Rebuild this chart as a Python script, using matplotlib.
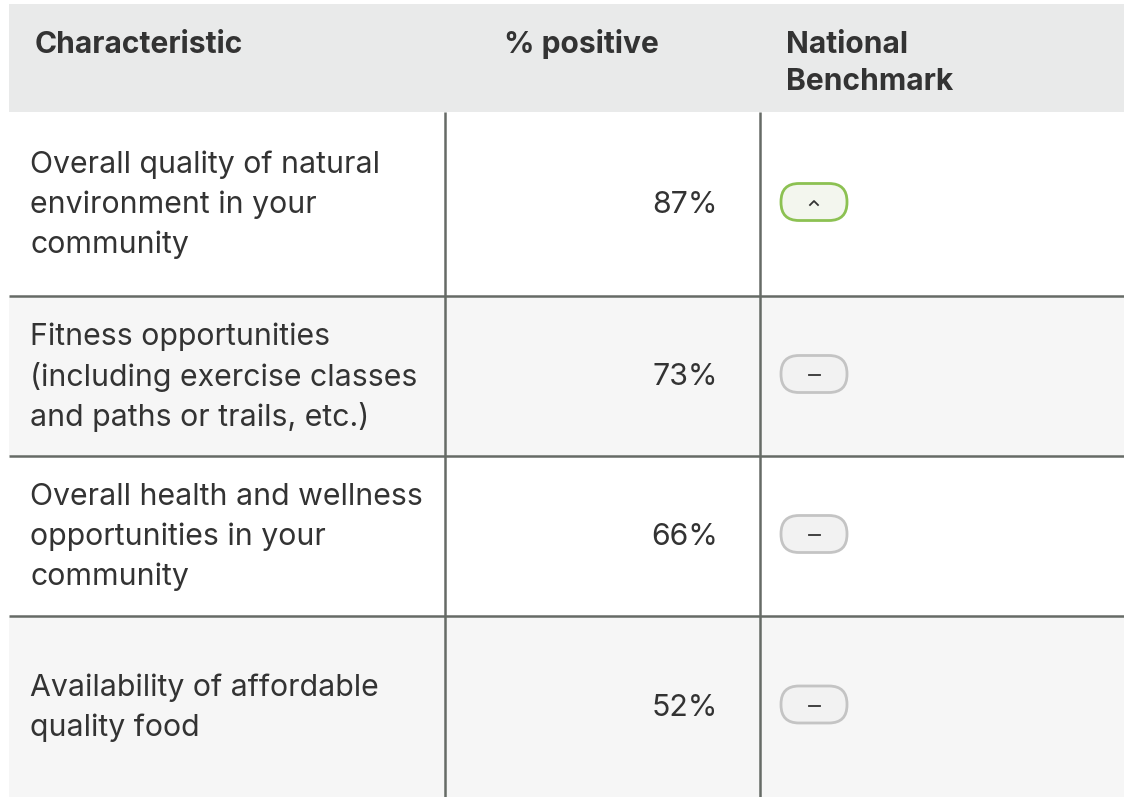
import matplotlib.pyplot as plt
from matplotlib.patches import Rectangle, FancyBboxPatch

plt.rcParams['font.family'] = ['Inter', 'DejaVu Sans']

# Table content
characteristics = [
    "Overall quality of natural\nenvironment in your\ncommunity",
    "Fitness opportunities\n(including exercise classes\nand paths or trails, etc.)",
    "Overall health and wellness\nopportunities in your\ncommunity",
    "Availability of affordable\nquality food",
]
pct_positive = [87, 73, 66, 52]
benchmark = ["higher", "similar", "similar", "similar"]
headers = ["Characteristic", "% positive", "National\nBenchmark"]

# Layout (pixels)
W, H = 1124, 797
left = 9
header_top, header_bot = 4, 112
row_edges = [112, 296, 456, 616, 797]
col1_x, col2_x = 445, 760
header_x = [35, 504, 786]
pct_right = 718
pill_cx, pill_w, pill_h = 814, 66, 36
line_h = 40
head_line_h = 37

text_col = "#333333"
line_col = "#666b66"

fig = plt.figure(figsize=(W / 100, H / 100), dpi=100)
ax = fig.add_axes([0, 0, 1, 1])
ax.set_xlim(0, W)
ax.set_ylim(H, 0)
ax.axis("off")

# Header
ax.add_patch(Rectangle((left, header_top), W - left, header_bot - header_top,
                       color="#e9eaea", lw=0))
for hx, label in zip(header_x, headers):
    for k, part in enumerate(label.split("\n")):
        ax.text(hx, 53 + k * head_line_h, part, fontsize=21.6,
                fontweight="bold", color=text_col, va="baseline", ha="left")

# Rows
for i, (name, pct, bm) in enumerate(zip(characteristics, pct_positive, benchmark)):
    top, bot = row_edges[i], row_edges[i + 1]
    mid = (top + bot) / 2
    bg = "#ffffff" if i % 2 == 0 else "#f6f6f6"
    ax.add_patch(Rectangle((left, top), W - left, bot - top, color=bg, lw=0))
    if i > 0:
        ax.plot([left, W], [top, top], color=line_col, lw=1.8,
                solid_capstyle="butt")

    lines = name.split("\n")
    y0 = mid - (len(lines) - 1) * line_h / 2
    for k, part in enumerate(lines):
        ax.text(30, y0 + k * line_h + 1, part, fontsize=21.8, color=text_col,
                va="center", ha="left")
    ax.text(pct_right, mid + 1, "{0}%".format(pct), fontsize=21.8,
            color=text_col, va="center", ha="right")

    # Benchmark pill
    if bm == "higher":
        edge, face = "#8cc152", "#f3f6ee"
    else:
        edge, face = "#c4c4c4", "#f2f2f2"
    pill = FancyBboxPatch((pill_cx - pill_w / 2 + pill_h / 2, mid - 2.5),
                          pill_w - pill_h, 1,
                          boxstyle="round,pad=%f,rounding_size=%f" % (pill_h / 2, pill_h / 2),
                          facecolor=face, edgecolor=edge, lw=2)
    ax.add_patch(pill)
    if bm == "higher":
        ax.plot([pill_cx - 4, pill_cx, pill_cx + 4], [mid + 1, mid - 3, mid + 1],
                color=text_col, lw=1.3)
    else:
        ax.plot([pill_cx - 5.5, pill_cx + 5.5], [mid - 1, mid - 1],
                color=text_col, lw=1.3)

# Vertical rules
for x in (col1_x, col2_x):
    ax.plot([x, x], [header_bot, H], color=line_col, lw=1.8,
            solid_capstyle="butt")

fig.savefig("out.png", dpi=100)
